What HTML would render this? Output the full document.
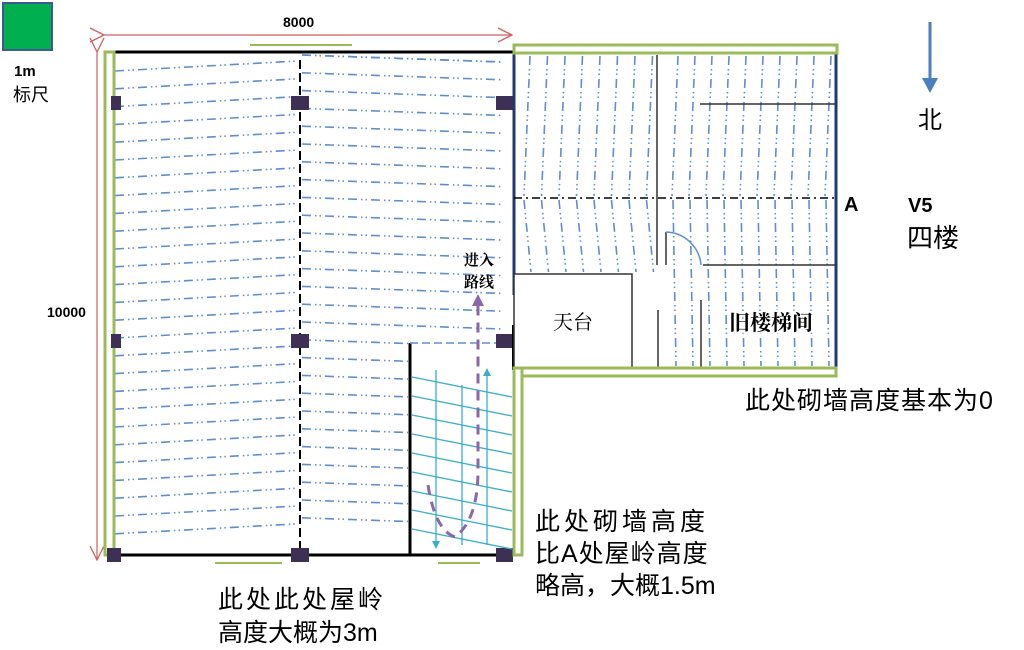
<!DOCTYPE html>
<html><head><meta charset="utf-8"><style>
body{margin:0;background:#fff;width:1024px;height:650px;overflow:hidden}
svg{display:block}
text{font-family:"Liberation Sans","Noto Sans CJK SC",sans-serif}
.sf{font-family:"Liberation Serif","Noto Serif CJK SC",serif}
</style></head><body>
<svg id="s" width="1024" height="650" viewBox="0 0 1024 650" xmlns="http://www.w3.org/2000/svg">
<defs>
<marker id="ar" markerWidth="16" markerHeight="16" refX="15" refY="8" orient="auto" markerUnits="userSpaceOnUse"><path d="M1,1 L15,8 L1,15" fill="none" stroke="#d06060" stroke-width="1.3"/></marker>
<marker id="cy" markerWidth="8" markerHeight="8" refX="4" refY="4" orient="auto" markerUnits="userSpaceOnUse"><path d="M0,0 L8,4 L0,8 z" fill="#3aaecb"/></marker>
<marker id="pu" markerWidth="12" markerHeight="12" refX="6" refY="6" orient="auto" markerUnits="userSpaceOnUse"><path d="M0,0 L12,6 L0,12 z" fill="#8a68a8"/></marker>
</defs>
<g id="lines" stroke="#5b8fd0" stroke-width="1.6" stroke-dasharray="9,4,1.5,3,1.5,4" fill="none"></g>
<rect x="3" y="3" width="49" height="47" fill="#00b050" stroke="#3a5a90" stroke-width="2"/>
<text x="14" y="76" font-size="15" font-weight="bold">1m</text>
<text x="13" y="101" font-size="18">标尺</text>
<line x1="104" y1="35" x2="512" y2="35" stroke="#d06060" stroke-width="1.2" marker-end="url(#ar)" marker-start="url(#ar)"/>
<text x="283" y="27" font-size="14" font-weight="bold">8000</text>
<line x1="250" y1="45" x2="352" y2="45" stroke="#9bbb59" stroke-width="2"/>
<line x1="97" y1="52" x2="97" y2="560" stroke="#d06060" stroke-width="1.2" marker-end="url(#ar)" marker-start="url(#ar)"/>
<text x="47" y="317" font-size="14" font-weight="bold">10000</text>
<line x1="113" y1="52" x2="513" y2="52" stroke="#000" stroke-width="3"/>
<line x1="105" y1="555" x2="513" y2="555" stroke="#000" stroke-width="3"/>
<line x1="300" y1="60" x2="300" y2="560" stroke="#000" stroke-width="2" stroke-dasharray="9,4"/>
<rect x="105" y="52" width="9" height="503" fill="none" stroke="#9bbb59" stroke-width="3"/>
<line x1="410" y1="343" x2="410" y2="555" stroke="#000" stroke-width="3"/>
<line x1="410" y1="343" x2="500" y2="343" stroke="#5b8fd0" stroke-width="1.5" stroke-dasharray="8,4"/>
<g fill="#3e2f54">
<rect x="111" y="96" width="10" height="14"/><rect x="291" y="96" width="18" height="14"/><rect x="496" y="96" width="17" height="14"/>
<rect x="111" y="334" width="10" height="14"/><rect x="291" y="334" width="18" height="14"/><rect x="496" y="334" width="17" height="14"/>
<rect x="107" y="548" width="14" height="14"/><rect x="291" y="548" width="18" height="14"/><rect x="496" y="548" width="17" height="14"/>
</g>
<line x1="215" y1="563" x2="282" y2="563" stroke="#9bbb59" stroke-width="2"/>
<line x1="438" y1="563" x2="480" y2="563" stroke="#9bbb59" stroke-width="2"/>
<g id="cyan" stroke="#3aaecb" stroke-width="1.3"></g>
<line x1="436" y1="370" x2="436" y2="545" stroke="#3aaecb" stroke-width="1.3" marker-end="url(#cy)"/>
<line x1="462" y1="545" x2="462" y2="385" stroke="#3aaecb" stroke-width="1.3"/>
<line x1="487" y1="545" x2="487" y2="372" stroke="#3aaecb" stroke-width="1.3" marker-end="url(#cy)"/>
<path d="M428,485 Q435,530 455,537 Q478,520 478,470 L478,300" fill="none" stroke="#8a68a8" stroke-width="3" stroke-dasharray="10,7" marker-end="url(#pu)"/>
<text x="464" y="265" font-size="15" font-weight="bold" class="sf">进入</text>
<text x="464" y="287" font-size="15" font-weight="bold" class="sf">路线</text>
<line x1="514" y1="52" x2="514" y2="295" stroke="#1f3a70" stroke-width="3"/>
<line x1="513" y1="325" x2="513" y2="370" stroke="#000" stroke-width="2"/>
<line x1="836" y1="52" x2="836" y2="370" stroke="#1f3a70" stroke-width="3"/>
<line x1="514" y1="198" x2="836" y2="198" stroke="#000" stroke-width="1.5" stroke-dasharray="8,4,2,4"/>
<line x1="657" y1="55" x2="657" y2="265" stroke="#333" stroke-width="1.5"/>
<line x1="700" y1="104" x2="836" y2="104" stroke="#333" stroke-width="1.5"/>
<line x1="666" y1="232" x2="666" y2="265" stroke="#333" stroke-width="1.5"/>
<path d="M666,232 A36,36 0 0 1 701,265" fill="none" stroke="#5b8fd0" stroke-width="1.5"/>
<line x1="703" y1="265" x2="836" y2="265" stroke="#333" stroke-width="1.5"/>
<line x1="658" y1="310" x2="658" y2="368" stroke="#333" stroke-width="1.5"/>
<line x1="701" y1="300" x2="701" y2="368" stroke="#333" stroke-width="1.5"/>
<rect x="514" y="274" width="118" height="94" fill="#fff" stroke="#333" stroke-width="1.5"/>
<text x="553" y="329" font-size="20" class="sf">天台</text>
<text x="729" y="330" font-size="21" font-weight="bold" class="sf" style="paint-order:stroke" stroke="#fff" stroke-width="4">旧楼梯间</text>
<rect x="514" y="45" width="323" height="8" fill="none" stroke="#9bbb59" stroke-width="3"/>
<rect x="514" y="368" width="322" height="8" fill="#fff" stroke="#9bbb59" stroke-width="3"/>
<rect x="514" y="368" width="8" height="187" fill="#fff" stroke="#9bbb59" stroke-width="3"/>
<line x1="930" y1="22" x2="930" y2="80" stroke="#4a7fc0" stroke-width="3"/>
<path d="M922,78 L938,78 L930,93 z" fill="#4a7fc0"/>
<text x="918" y="128" font-size="24">北</text>
<text x="844" y="211" font-size="20" font-weight="bold">A</text>
<text x="908" y="212" font-size="20" font-weight="bold">V5</text>
<text x="907" y="247" font-size="26">四楼</text>
<text x="745" y="409" font-size="25" letter-spacing="1">此处砌墙高度基本为0</text>
<text x="535" y="530" font-size="25" letter-spacing="4">此处砌墙高度</text>
<text x="535" y="562" font-size="25" letter-spacing="1">比A处屋岭高度</text>
<text x="535" y="594" font-size="25">略高，大概1.5m</text>
<text x="218" y="608" font-size="25" letter-spacing="3">此处此处屋岭</text>
<text x="218" y="641" font-size="25">高度大概为3m</text>
</svg>
<script>
var g=document.getElementById('lines'),ns="http://www.w3.org/2000/svg";
function L(p,a,b,c,d){var l=document.createElementNS(ns,'line');l.setAttribute('x1',a);l.setAttribute('y1',b);l.setAttribute('x2',c);l.setAttribute('y2',d);p.appendChild(l);}
for(var i=0;i<27;i++){var y=71+i*17.8;
 L(g,115,y,298,y-10);
 var yr=y-16; if(yr>52){ var xe=(y>343)?408:503; L(g,302,yr,xe,yr+(xe-302)*0.035);}
}
L(g,302,55,503,62);
for(var i=0;i<8;i++){var x=526+i*17.5; L(g,x+4,56,x-2,196); L(g,x-2,200,x+5,272);}
for(var i=0;i<10;i++){var x=674+i*17; L(g,x+4,56,x-2,196); L(g,x-1,200,x+2,366);}
var c=document.getElementById('cyan');
for(var i=0;i<9;i++){var y=377+i*19; L(c,412,y,512,y+20);}
</script>
</body></html>
